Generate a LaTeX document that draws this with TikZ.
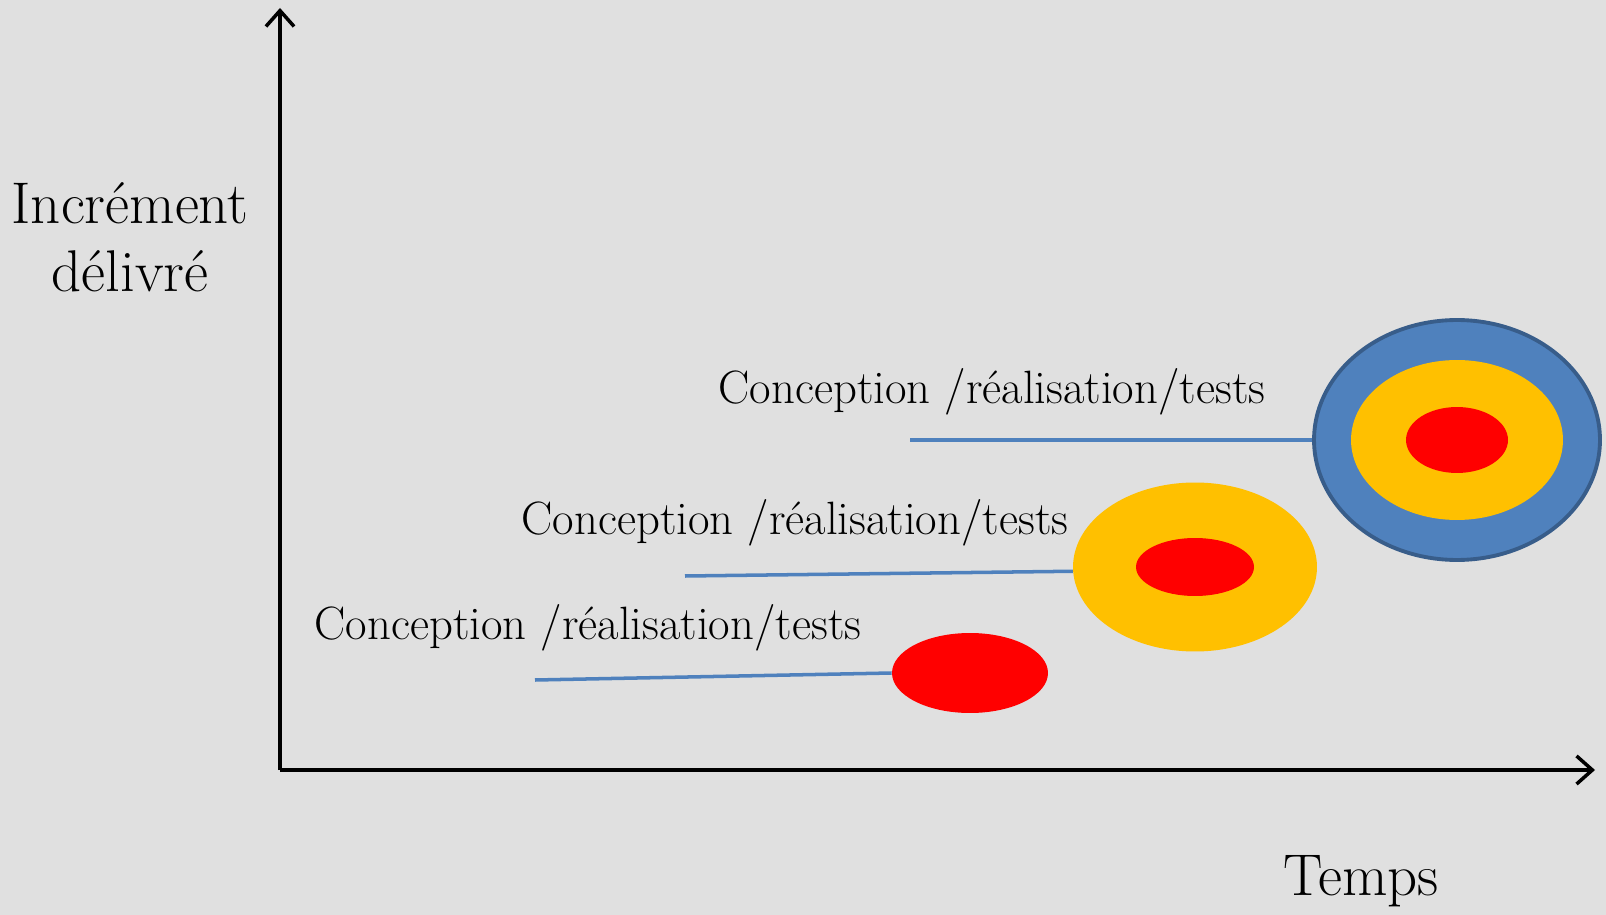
\documentclass[tikz,border=0pt]{standalone}
\usepackage{tikz}
\usetikzlibrary{shapes.geometric,arrows.meta}
\definecolor{fond}{HTML}{E0E0E0}
\definecolor{bleu}{HTML}{4F81BD}
\definecolor{bleufonce}{HTML}{385D8A}
\definecolor{jaune}{HTML}{FFC000}
\definecolor{rouge}{HTML}{FF0000}
\begin{document}
\begin{tikzpicture}[
		x=0.02cm, y=-0.02cm,
		>={Straight Barb[length=9pt,width=16pt]},
		axe/.style={line width=2pt},
		trait/.style={draw=bleu, line width=2pt},
		rond/.style={ellipse, inner sep=0pt},
		titre/.style={font=\fontsize{26.6}{32}\selectfont},
		grand/.style={font=\fontsize{33.5}{40}\selectfont}
		]
		\fill[fond] (0,0) rectangle (1606,915);
		\useasboundingbox (0,0) rectangle (1606,915);

		% axes
		\coordinate (o) at (280,770);
		\coordinate (haut) at (280,8);
		\coordinate (droite) at (1595,770);
		\draw[axe,->] (o) -- (haut);
		\draw[axe,->] (o) -- (droite);
		\node[grand] (inc) at (130,203) {Incrément};
		\node[grand] (del) at (130,271) {délivré};
		\node[grand] (temps) at (1361,881) {Temps};

		% increment 3
		\node[rond, fill=bleu, draw=bleufonce, line width=2.2pt, minimum width=5.72cm, minimum height=4.8cm] (c3) at (1457,440) {};
		\node[rond, fill=jaune, minimum width=4.24cm, minimum height=3.2cm] (j3) at (1457,440) {};
		\node[rond, fill=rouge, minimum width=2.04cm, minimum height=1.32cm] (r3) at (1457,440) {};
		% increment 2
		\node[rond, fill=jaune, minimum width=4.88cm, minimum height=3.38cm] (j2) at (1195,567) {};
		\node[rond, fill=rouge, minimum width=2.36cm, minimum height=1.16cm] (r2) at (1195,567) {};
		% increment 1
		\node[rond, fill=rouge, minimum width=3.12cm, minimum height=1.6cm] (r1) at (970,673) {};

		\coordinate (d3) at (910,440);
		\coordinate (d2) at (685,576);
		\coordinate (d1) at (535,680);
		\draw[trait] (d3) -- (c3.west);
		\draw[trait] (d2) -- (j2.182);
		\draw[trait] (d1) -- (r1.west);

		\node[titre] (t3) at (992,392) {Conception /réalisation/tests};
		\node[titre] (t2) at (795,523) {Conception /réalisation/tests};
		\node[titre] (t1) at (588,628) {Conception /réalisation/tests};
\end{tikzpicture}
\end{document}
